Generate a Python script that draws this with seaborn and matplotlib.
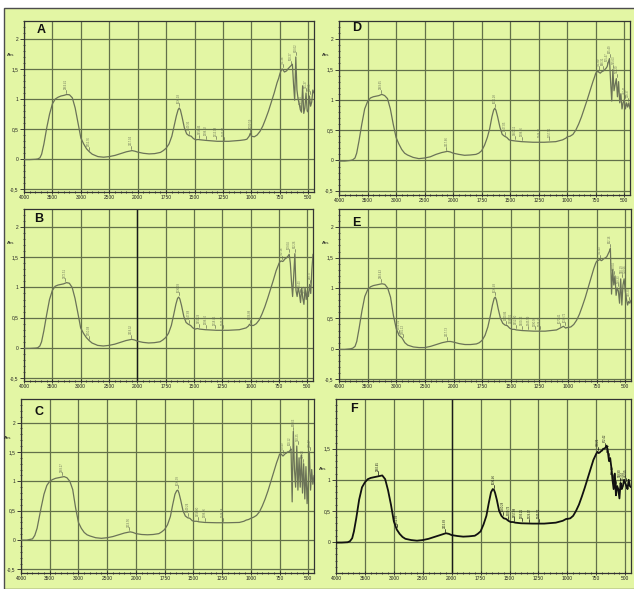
import numpy as np
import matplotlib
matplotlib.use("Agg")
import matplotlib.pyplot as plt
import seaborn as sns
from matplotlib.patches import Rectangle

# wavenumber grids (cm-1), shared by all six spectra
wn_main = [4000, 3900, 3800, 3760, 3720, 3690, 3650, 3600, 3550, 3500,
           3450, 3400, 3350, 3300, 3250, 3200, 3150, 3100, 3050, 3000,
           2950, 2900, 2850, 2800, 2700, 2600, 2500, 2400, 2300, 2200,
           2100, 2050, 2000, 1950, 1900, 1850, 1800, 1775, 1750, 1725,
           1700, 1680, 1660, 1645, 1635, 1625, 1610, 1590, 1570, 1550,
           1530, 1510, 1490, 1470, 1450, 1400, 1300, 1200, 1100, 1060,
           1040, 1020, 1010, 1000, 975, 950, 925, 900, 875, 850,
           825, 800, 775, 760]
wn_fp = [750, 740, 730, 720, 710, 700, 690, 680, 670, 660,
         650, 640, 630, 620, 610, 600, 590, 580, 570, 560,
         550, 540, 530, 520, 510, 500, 490, 480, 470, 460, 450]

# absorbance, panel A
abs_A = [-0.01, -0.01, -0.005, 0.0, 0.02, 0.08, 0.25, 0.52, 0.75, 0.92,
         1.0, 1.03, 1.05, 1.06, 1.075, 1.07, 1.02, 0.85, 0.6, 0.35,
         0.25, 0.17, 0.12, 0.08, 0.04, 0.03, 0.04, 0.06, 0.09, 0.12,
         0.14, 0.13, 0.115, 0.095, 0.085, 0.09, 0.11, 0.14, 0.18, 0.25,
         0.38, 0.55, 0.72, 0.82, 0.85, 0.82, 0.7, 0.52, 0.42, 0.39,
         0.38, 0.34, 0.32, 0.325, 0.32, 0.31, 0.295, 0.295, 0.31, 0.32,
         0.33, 0.38, 0.43, 0.38, 0.37, 0.4, 0.46, 0.55, 0.67, 0.8,
         0.95, 1.1, 1.27, 1.35]
fp_A = [1.42, 1.47, 1.5, 1.48, 1.45, 1.46, 1.47, 1.5, 1.52, 1.54,
        1.56, 1.58, 1.25, 0.98, 1.7, 1.15, 1.0, 0.92, 0.82, 0.78,
        1.22, 0.76, 0.85, 1.1, 0.8, 0.78, 1.05, 0.88, 0.95, 1.15, 1.1]

# panel B
abs_B = [-0.01, -0.01, -0.005, 0.0, 0.03, 0.1, 0.28, 0.55, 0.8, 0.95,
         1.02, 1.04, 1.05, 1.06, 1.08, 1.07, 1.0, 0.82, 0.58, 0.33,
         0.24, 0.17, 0.12, 0.08, 0.04, 0.03, 0.04, 0.06, 0.09, 0.12,
         0.14, 0.13, 0.11, 0.09, 0.08, 0.085, 0.1, 0.13, 0.17, 0.24,
         0.37, 0.54, 0.72, 0.82, 0.84, 0.81, 0.7, 0.52, 0.42, 0.39,
         0.37, 0.33, 0.31, 0.32, 0.31, 0.3, 0.29, 0.29, 0.3, 0.32,
         0.33, 0.36, 0.39, 0.37, 0.37, 0.4, 0.46, 0.56, 0.68, 0.82,
         0.97, 1.12, 1.28, 1.35]
fp_B = [1.4, 1.43, 1.44, 1.43, 1.44, 1.47, 1.48, 1.5, 1.52, 1.55,
        1.4, 1.1, 0.85, 1.2, 1.56, 0.95, 0.85, 1.0, 0.9, 0.75,
        1.0, 0.82, 0.72, 1.0, 0.8, 0.95, 0.85, 1.05, 0.9, 1.3, 1.55]

# panel C
abs_C = [0.0, 0.0, 0.02, 0.08, 0.2, 0.35, 0.55, 0.78, 0.93, 1.0,
         1.03, 1.05, 1.06, 1.07, 1.08, 1.06, 1.0, 0.86, 0.55, 0.3,
         0.2, 0.13, 0.09, 0.07, 0.04, 0.03, 0.04, 0.06, 0.09, 0.12,
         0.14, 0.13, 0.11, 0.095, 0.09, 0.095, 0.11, 0.14, 0.18, 0.26,
         0.4, 0.6, 0.78, 0.84, 0.85, 0.8, 0.68, 0.5, 0.41, 0.38,
         0.37, 0.33, 0.32, 0.32, 0.31, 0.3, 0.295, 0.295, 0.3, 0.32,
         0.34, 0.35, 0.36, 0.37, 0.39, 0.42, 0.48, 0.58, 0.7, 0.84,
         1.0, 1.16, 1.32, 1.4]
fp_C = [1.46, 1.47, 1.45, 1.43, 1.45, 1.47, 1.48, 1.5, 1.5, 1.52,
        1.55, 0.65, 1.85, 1.2, 0.9, 1.6, 0.85, 1.4, 0.9, 1.45,
        0.8, 1.3, 0.7, 1.25, 0.62, 1.0, 1.5, 0.85, 1.2, 0.95, 1.1]

# panel D
abs_D = [-0.01, -0.01, 0.0, 0.01, 0.04, 0.12, 0.32, 0.6, 0.85, 0.97,
         1.03, 1.05, 1.06, 1.07, 1.09, 1.07, 1.02, 0.85, 0.6, 0.38,
         0.27, 0.18, 0.12, 0.09, 0.05, 0.03, 0.04, 0.06, 0.1, 0.13,
         0.15, 0.14, 0.12, 0.1, 0.085, 0.09, 0.1, 0.12, 0.16, 0.25,
         0.38, 0.52, 0.72, 0.83, 0.86, 0.83, 0.72, 0.55, 0.43, 0.4,
         0.38, 0.34, 0.33, 0.325, 0.32, 0.31, 0.3, 0.3, 0.31, 0.33,
         0.34, 0.36, 0.37, 0.39, 0.4, 0.43, 0.5, 0.6, 0.72, 0.86,
         1.0, 1.15, 1.3, 1.38]
fp_D = [1.44, 1.46, 1.47, 1.45, 1.44, 1.46, 1.47, 1.48, 1.5, 1.52,
        1.55, 1.62, 1.68, 1.3, 0.98, 1.5, 1.15, 1.25, 1.35, 1.05,
        1.3, 0.95, 1.1, 0.85, 0.95, 1.0, 0.85, 0.95, 0.88, 0.95, 0.85]

# panel E
abs_E = [-0.01, -0.01, 0.0, 0.01, 0.04, 0.12, 0.33, 0.62, 0.86, 0.97,
         1.02, 1.04, 1.05, 1.06, 1.07, 1.06, 1.0, 0.85, 0.55, 0.33,
         0.22, 0.18, 0.1, 0.06, 0.03, 0.02, 0.02, 0.04, 0.07, 0.1,
         0.12, 0.12, 0.11, 0.085, 0.07, 0.07, 0.08, 0.1, 0.14, 0.22,
         0.36, 0.53, 0.72, 0.83, 0.85, 0.8, 0.66, 0.5, 0.42, 0.39,
         0.38, 0.34, 0.32, 0.32, 0.31, 0.3, 0.29, 0.29, 0.31, 0.35,
         0.37, 0.34, 0.35, 0.35, 0.36, 0.4, 0.47, 0.57, 0.7, 0.84,
         1.0, 1.16, 1.32, 1.4]
fp_E = [1.44, 1.45, 1.46, 1.47, 1.45, 1.46, 1.48, 1.49, 1.5, 1.52,
        1.56, 1.6, 1.65, 0.9, 1.3, 1.05, 1.2, 0.88, 1.0, 0.95,
        0.75, 1.15, 0.72, 1.05, 1.15, 0.95, 0.82, 0.72, 0.78, 0.75, 0.8]

# panel F
abs_F = [-0.01, -0.01, -0.005, 0.01, 0.06, 0.17, 0.38, 0.68, 0.88, 0.96,
         1.01, 1.03, 1.04, 1.05, 1.06, 1.07, 1.01, 0.83, 0.6, 0.33,
         0.2, 0.13, 0.08, 0.05, 0.03, 0.02, 0.03, 0.05, 0.08, 0.11,
         0.14, 0.13, 0.11, 0.095, 0.085, 0.09, 0.1, 0.13, 0.17, 0.28,
         0.42, 0.62, 0.8, 0.85, 0.84, 0.79, 0.68, 0.5, 0.42, 0.38,
         0.37, 0.34, 0.32, 0.32, 0.31, 0.3, 0.295, 0.295, 0.31, 0.33,
         0.34, 0.36, 0.37, 0.37, 0.38, 0.42, 0.5, 0.6, 0.73, 0.87,
         1.02, 1.17, 1.32, 1.38]
fp_F = [1.42, 1.45, 1.43, 1.44, 1.46, 1.47, 1.5, 1.5, 1.52, 1.55,
        1.45, 1.3, 1.35, 1.2, 1.0, 0.85, 1.1, 0.75, 0.9, 0.85,
        0.7, 0.95, 0.85, 0.9, 1.0, 0.95, 0.9, 0.85, 1.0, 0.9, 0.88]

# peak picks printed on the spectra
peaks_A = [3264.41, 2852.76, 2117.34, 1636.18, 1549.35, 1458.46, 1398.92, 1313.08,
           1243.67, 1009.59, 721.38, 650.27, 610.02, 569.54, 521.37, 482.66]
peaks_B = [3272.51, 2850.08, 2118.32, 1636.09, 1547.68, 1459.29, 1398.10, 1318.45,
           1245.37, 1006.88, 722.18, 659.04, 612.26, 568.43, 530.21, 480.77]
peaks_C = [3288.27, 2119.56, 1636.39, 1549.24, 1458.80, 1398.96, 1244.18, 720.49,
           660.12, 628.63, 590.25, 545.10, 486.47]
peaks_D = [3269.65, 2117.66, 1636.28, 1547.05, 1460.11, 1398.86, 1244.73, 1157.51,
           721.89, 688.31, 655.47, 625.49, 595.63, 562.20, 497.41, 468.37]
peaks_E = [3263.43, 2955.31, 2885.12, 2117.73, 1636.49, 1540.86, 1496.30, 1452.30,
           1400.73, 1345.59, 1290.95, 1244.43, 1070.41, 1030.72, 721.43, 632.16,
           598.04, 560.33, 530.19, 500.66, 470.20]
peaks_F = [3282.45, 2951.03, 2115.88, 1636.46, 1560.28, 1509.73, 1457.88, 1393.21,
           1329.37, 1245.12, 738.21, 672.42, 638.76, 605.12, 577.36, 548.90,
           521.04, 492.55]

x_ticks = [4000, 3500, 3000, 2500, 2000, 1750, 1500, 1250, 1000, 750, 500]


def fwd(w):
    w = np.asarray(w, dtype=float)
    return np.where(w >= 2000, w / 500.0, w / 250.0 - 4.0)


def inv(p):
    p = np.asarray(p, dtype=float)
    return np.where(p >= 4, p * 500.0, (p + 4.0) * 250.0)


sns.set_style("ticks")
plt.rcParams['font.family'] = ['Liberation Sans', 'DejaVu Sans']

bg = '#e3f6a4'
grid_c = '#63704a'
W, H = 634, 589

fig = plt.figure(figsize=(W / 100, H / 100), dpi=100, facecolor='white')
fig.add_artist(Rectangle((4 / W, 0), 1, 1 - 8 / H, transform=fig.transFigure,
                         facecolor=bg, edgecolor='#4d4d4d', lw=1.0, zorder=-5))

# name, curve, fingerprint, peaks, pixel box (l, t, r, b), ylim, yticks, letter pos, heavy 2000 line
panels = [
    ("A", abs_A, fp_A, peaks_A, (24, 21, 314, 192), (-0.55, 2.2),
     [-0.5, 0, 0.5, 1, 1.5, 2], (0.06, 0.95), False),
    ("B", abs_B, fp_B, peaks_B, (24, 209, 313, 381), (-0.55, 2.05),
     [-0.5, 0, 0.5, 1, 1.5, 2], (0.05, 0.94), True),
    ("C", abs_C, fp_C, peaks_C, (21, 399, 314, 573), (-0.56, 2.4),
     [-0.5, 0, 0.5, 1, 1.5, 2], (0.06, 0.925), False),
    ("D", abs_D, fp_D, peaks_D, (339, 21, 630, 195), (-0.57, 2.2),
     [-0.5, 0, 0.5, 1, 1.5, 2], (0.06, 0.96), False),
    ("E", abs_E, fp_E, peaks_E, (339, 209, 631, 381), (-0.53, 2.12),
     [-0.5, 0, 0.5, 1, 1.5, 2], (0.06, 0.92), False),
    ("F", abs_F, fp_F, peaks_F, (336, 399, 631, 573), (-0.5, 2.0),
     [0, 0.5, 1, 1.5], (0.06, 0.94), True),
]

for name, main, fp, peaks, box, ylim, yticks, lpos, heavy in panels:
    l, t, r, b = box
    ax = fig.add_axes([l / W, 1 - b / H, (r - l) / W, (b - t) / H])
    ax.set_facecolor(bg)
    ax.set_xscale('function', functions=(fwd, inv))

    wn_all = np.array(wn_main + wn_fp, dtype=float)
    ab_all = np.array(main + fp, dtype=float)
    is_f = name == "F"
    line_c = '#111111' if is_f else '#6b7358'
    sns.lineplot(x=wn_all, y=ab_all, ax=ax, color=line_c, lw=1.3 if is_f else 0.9,
                 estimator=None, sort=False, zorder=3)

    # peak labels: short tick above the band, value written upwards
    for pk in peaks:
        if pk < 760:
            near = np.abs(wn_all - pk) <= 10
            yv = ab_all[near].max()
        else:
            yv = np.interp(pk, wn_all[::-1], ab_all[::-1])
        ax.plot([pk, pk], [yv + 0.03, yv + 0.08], color=line_c, lw=0.5, zorder=3)
        ax.text(pk, yv + 0.09, f"{pk:.2f}", rotation=90, fontsize=2.0,
                ha='center', va='bottom', color=line_c, zorder=3)

    ax.set_xlim(4000, 450)
    ax.set_ylim(*ylim)
    ax.set_xticks(x_ticks, labels=[str(v) for v in x_ticks])
    minor_x = [v for v in range(3900, 2000, -100) if v % 500] + \
              [v for v in range(1950, 450, -50) if v % 250]
    ax.set_xticks(minor_x, minor=True)
    ax.set_yticks(yticks, labels=[f"{v:g}".replace('.', ',') for v in yticks])
    ax.set_yticks(np.arange(-5, 24) / 10.0, minor=True)
    ax.tick_params(axis='x', which='both', direction='inout', length=2.5, width=0.6,
                   labelsize=3.5, pad=1, colors='#222222')
    ax.tick_params(axis='x', which='minor', length=1.8)
    ax.tick_params(axis='y', which='major', direction='out', length=3, width=0.6,
                   labelsize=3.5, pad=1, colors='#222222')
    ax.tick_params(axis='y', which='minor', direction='inout', length=2, width=0.5)

    ax.grid(True, which='major', color=grid_c, lw=0.9)
    ax.set_axisbelow(True)
    if heavy:
        ax.axvline(2000, color='#1a1a1a', lw=1.0, zorder=2)
    for sp in ax.spines.values():
        sp.set_color('#333333')
        sp.set_linewidth(0.9)

    ax.set_xlabel("")
    ax.set_ylabel("")
    abs_y = 1.17 if is_f else 1.74
    ax.text(-0.045, abs_y, "Abs", transform=ax.get_yaxis_transform(), fontsize=3.2,
            ha='center', va='center', color='#222222')
    ax.text(lpos[0], lpos[1], name, transform=ax.transAxes, fontsize=9,
            fontweight='bold', ha='center', va='center', color='#111111', zorder=4)

fig.savefig("out.png", dpi=100)
